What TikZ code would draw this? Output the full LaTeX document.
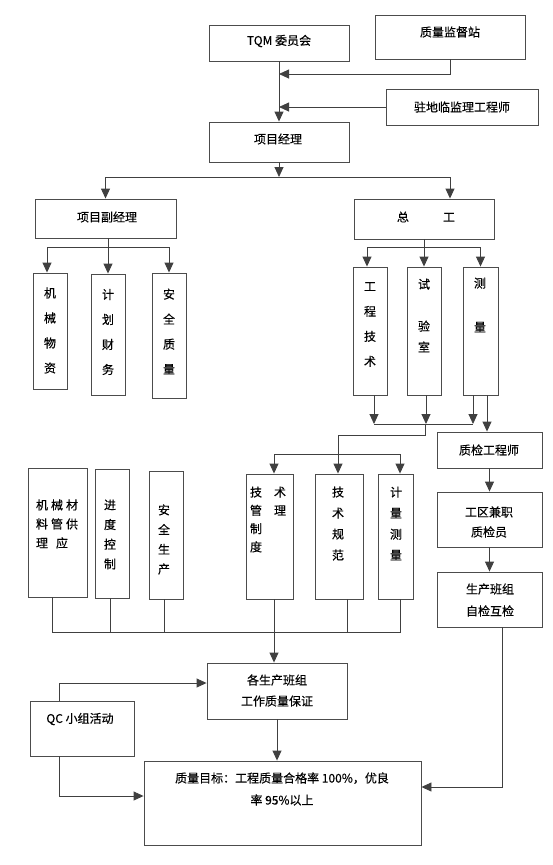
\documentclass[tikz,border=0pt]{standalone}
\usepackage{fontspec}
\setmainfont{Noto Sans CJK SC}[FakeBold=0.4,AutoFakeBold=0.4]
\usetikzlibrary{arrows.meta}
\newcommand\mybox[5]{\node[box, minimum width={#4pt-#2pt}, minimum height={#5pt-#3pt}] (#1) at ({(#2+#4)/2},{(#3+#5)/2}) {};}
\begin{document}
\begin{tikzpicture}[x=1pt,y=-1pt,
  box/.style={draw=black!70, line width=0.9pt, inner sep=0pt},
  txt/.style={inner sep=0pt, align=center, font=\fontsize{12pt}{20pt}\selectfont\bfseries},
  ls/.style={font=\fontsize{12pt}{#1}\selectfont\bfseries},
  conn/.style={draw=black!75, line width=0.9pt},
  arr/.style={conn, -{Triangle[width=9pt,length=10pt]}}]
\useasboundingbox (0,0) rectangle (553,865);
% boxes
\mybox{tqm}{209}{25}{349}{61}
\mybox{jdz}{375}{15}{525}{59}
\mybox{jl}{386}{89}{538}{125}
\mybox{pm}{209}{122}{349}{162}
\mybox{dpm}{35}{199}{176}{238}
\mybox{zg}{354}{199}{494}{239}
\mybox{jxwz}{33}{273}{67}{389}
\mybox{jhcw}{91}{274}{125}{395}
\mybox{aqzl}{152}{273}{186}{398}
\mybox{gcjs}{353}{267}{387}{395}
\mybox{sys}{407}{267}{441}{395}
\mybox{cl}{463}{267}{498}{395}
\mybox{jxcl}{28}{468}{87}{597}
\mybox{jdkz}{95}{469}{129}{598}
\mybox{aqsc}{149}{471}{183}{599}
\mybox{jsgl}{246}{474}{293}{599}
\mybox{jsgf}{315}{474}{363}{599}
\mybox{jlcl}{378}{474}{413}{599}
\mybox{zjgcs}{437}{432}{542}{468}
\mybox{gqjz}{437}{492}{542}{547}
\mybox{scbz}{437}{572}{542}{627}
\mybox{gsc}{207}{663}{347}{719}
\mybox{qc}{30}{701}{134}{756}
\mybox{goal}{144}{761}{421}{845}
% texts
\node[txt] (tqm-t) at (279,41) {TQM 委员会};
\node[txt] (jdz-t) at (450,32) {质量监督站};
\node[txt] (jl-t) at (462,107) {驻地临监理工程师};
\node[txt] (pm-t) at (278,139) {项目经理};
\node[txt] (dpm-t) at (107,217) {项目副经理};
\node[txt] (zg-t) at (426,217) {总\hspace{34pt}工};
\node[txt, ls=25pt] (jxwz-t) at (50,330.5) {机\\械\\物\\资};
\node[txt, ls=25pt] (jhcw-t) at (108,332) {计\\划\\财\\务};
\node[txt, ls=25pt] (aqzl-t) at (169,331.5) {安\\全\\质\\量};
\node[txt, ls=25pt] (gcjs-t) at (370,324.5) {工\\程\\技\\术};
\node[txt, ls=21pt] (sys-t) at (424,315.5) {试\\\mbox{}\\验\\室};
\node[txt, ls=22pt] (cl-t) at (480,305) {测\\\mbox{}\\量};
\node[txt, ls=19pt, align=left] (jxcl-t) at (57,524) {机\hspace{3pt}械\hspace{3pt}材\\料\hspace{3pt}管\hspace{3pt}供\\理\hspace{8pt}应};
\node[txt, ls=19.7pt] (jdkz-t) at (110,534.5) {进\\度\\控\\制};
\node[txt, ls=19.7pt] (aqsc-t) at (164,539.5) {安\\全\\生\\产};
\node[txt, ls=18.3pt, align=left] (jsgl-t) at (268,519.5) {技\hspace{12pt}术\\管\hspace{12pt}理\\制\\度};
\node[txt, ls=21pt] (jsgf-t) at (338,523.5) {技\\术\\规\\范};
\node[txt, ls=21pt] (jlcl-t) at (396,523.5) {计\\量\\测\\量};
\node[txt] (zjgcs-t) at (489,450) {质检工程师};
\node[txt, ls=20pt] (gqjz-t) at (489,522) {工区兼职\\质检员};
\node[txt, ls=22pt] (scbz-t) at (490,600) {生产班组\\自检互检};
\node[txt, ls=21pt] (gsc-t) at (277,690.5) {各生产班组\\工作质量保证};
\node[txt] (qc-t) at (80,719) {QC 小组活动};
\node[txt, ls=22pt] (goal-t) at (282,789) {质量目标：工程质量合格率 100\%，优良\\率 95\%以上};
% connectors
\coordinate (m1) at (279,74);
\draw[arr] (tqm.south) -- (pm.north);
\draw[arr] (jdz.south) |- (m1);
\draw[arr] (jl.west) -- (jl.west -| tqm.south);
\coordinate (j1) at (279,177);
\draw[arr] (pm.south) -- (j1);
\draw[arr] (j1) -| (dpm.north);
\draw[arr] (j1) -| ([xshift=26pt]zg.north);
\coordinate (j2) at (108,247);
\draw[arr] (dpm.south -| jhcw.north) -- (jhcw.north);
\draw[arr] (j2) -| ([xshift=-3pt]jxwz.north);
\draw[arr] (j2) -| (aqzl.north);
\coordinate (j3) at (424,247);
\draw[arr] (zg.south -| sys.north) -- (sys.north);
\draw[arr] (j3) -| ([xshift=-3pt]gcjs.north);
\draw[arr] (j3) -| (cl.north);
\coordinate (j4) at (425,424);
\draw[arr] ([xshift=4pt]gcjs.south) -- ([xshift=4pt]gcjs.south |- j4);
\draw[arr] ([xshift=2pt]sys.south) -- ([xshift=2pt]sys.south |- j4);
\draw[arr] ([xshift=-7.5pt]cl.south) -- ([xshift=-7.5pt]cl.south |- j4);
\draw[conn] ([xshift=4pt]gcjs.south |- j4) -- ([xshift=-7.5pt]cl.south |- j4);
\draw[arr] ([xshift=6.5pt]cl.south) -- ([xshift=6.5pt]cl.south |- zjgcs.north);
\coordinate (j5) at (425,435);
\draw[arr] (j4) -- (j5) -| ([xshift=-1pt]jsgf.north);
\coordinate (j6) at (338,454);
\draw[arr] (j6) -| ([xshift=4.5pt]jsgl.north);
\draw[arr] (j6) -| ([xshift=4.5pt]jlcl.north);
\draw[arr] (zjgcs.south) -- (gqjz.north);
\draw[arr] (gqjz.south) -- (scbz.north);
\draw[arr] ([xshift=13pt]scbz.south) |- ([yshift=16pt]goal.east);
\coordinate (c) at (274,632);
\draw[conn] ([xshift=-5.5pt]jxcl.south) |- (c);
\draw[conn] ([xshift=4.5pt]jlcl.south) |- (c);
\draw[conn] ([xshift=-2pt]jdkz.south) -- ([xshift=-2pt]jdkz.south |- c);
\draw[conn] ([xshift=-2pt]aqsc.south) -- ([xshift=-2pt]aqsc.south |- c);
\draw[conn] ([xshift=8pt]jsgf.south) -- ([xshift=8pt]jsgf.south |- c);
\draw[arr] ([xshift=4.5pt]jsgl.south) -- ([xshift=4.5pt]jsgl.south |- gsc.north);
\draw[arr] (gsc.south) -- (gsc.south |- goal.north);
\draw[arr] ([xshift=-23pt]qc.north) |- ([yshift=8pt]gsc.west);
\draw[arr] ([xshift=-23pt]qc.south) |- ([yshift=7pt]goal.west);
\end{tikzpicture}
\end{document}
